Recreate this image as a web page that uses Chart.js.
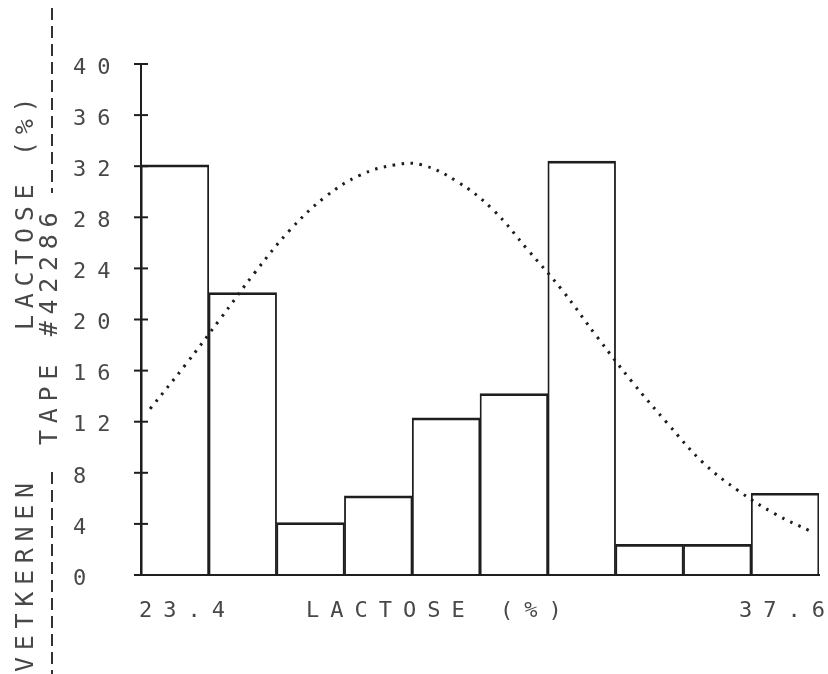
<!DOCTYPE html>
<html>
<head>
<meta charset="utf-8">
<script src="https://cdn.jsdelivr.net/npm/chart.js@4"></script>
<style>
  html, body { margin: 0; padding: 0; background: #fff; }
  canvas { display: block; }
</style>
</head>
<body>
<canvas id="myChart" width="828" height="674"></canvas>
<script>
// lactose classes (%), edges of the 10 bins
const binEdges = [23.4, 24.82, 26.24, 27.66, 29.08, 30.5, 31.92, 33.34, 34.76, 36.18, 37.6];
// share of samples in each bin
const binValues = [32.1, 22.1, 4.1, 6.2, 12.3, 14.2, 32.4, 2.4, 2.4, 6.4];
// fitted normal curve, dotted
const curveX = [23.59, 24.34, 25.05, 25.79, 26.52, 27.26, 27.99, 28.71, 29.28, 30.02,
  30.77, 31.49, 32.22, 32.96, 33.69, 34.42, 35.17, 35.91, 36.67, 37.41];
const curveY = [13.0, 16.5, 20.0, 23.7, 27.0, 29.6, 31.3, 32.1, 32.1, 30.8,
  28.6, 25.5, 22.3, 18.6, 15.1, 11.9, 8.8, 6.6, 4.8, 3.45];
const yMin = 0, yMax = 40, yStep = 4;
const xLabels = ["23.4", "37.6"];
const xTitle = "LACTOSE (%)";
const sideLabels = ["LACTOSE (%)", "TAPE #42286", "VETKERNEN"];

const ink = "#1e1e1e";
const textInk = "#484848";
const plotFont = '"DejaVu Sans Mono", monospace';

let barData = binValues.map((v, i) => ({ x: (binEdges[i] + binEdges[i + 1]) / 2, y: v }));
let curveData = curveX.map((v, i) => ({ x: v, y: curveY[i] }));

// plotter style lettering, tick crosses and the side captions
const plotterText = {
  id: "plotterText",
  beforeDraw: (chart) => {
    chart.ctx.letterSpacing = "11px";
  },
  afterDraw: (chart) => {
    const c = chart.ctx;
    const xs = chart.scales.x, ys = chart.scales.y;
    const area = chart.chartArea;
    c.save();
    c.strokeStyle = ink;
    c.lineWidth = 2;
    ys.ticks.forEach((t) => {
      const py = ys.getPixelForValue(t.value);
      c.beginPath();
      c.moveTo(xs.left - 7, py);
      c.lineTo(xs.left + 7, py);
      c.stroke();
    });

    // x labels at both ends of the axis
    c.fillStyle = textInk;
    c.font = "22px " + plotFont;
    c.letterSpacing = "11px";
    c.textBaseline = "alphabetic";
    c.textAlign = "left";
    const base = area.bottom + 42;
    c.fillText(xLabels[0], xs.getPixelForValue(binEdges[0]) - 2, base);
    const w = c.measureText(xLabels[1]).width;
    c.fillText(xLabels[1], xs.getPixelForValue(binEdges[10]) + 6 - w + 11, base);
    c.fillText(xTitle, xs.left + 165, base);

    // vertical captions on the left
    c.font = "25px " + plotFont;
    c.letterSpacing = "6.7px";
    const vText = (str, px, py) => {
      c.save();
      c.translate(px, py);
      c.rotate(-Math.PI / 2);
      c.fillText(str, 0, 0);
      c.restore();
    };
    vText(sideLabels[0], 33, 330);
    vText(sideLabels[1], 57, 445);
    vText(sideLabels[2], 33, 672);

    c.setLineDash([12, 6]);
    c.lineWidth = 2;
    c.strokeStyle = "#333";
    c.beginPath();
    c.moveTo(52, 8);
    c.lineTo(52, 193);
    c.moveTo(52, 472);
    c.lineTo(52, 674);
    c.stroke();
    c.restore();
  },
};

let ctx = document.getElementById("myChart").getContext("2d");
let myChart = new Chart(ctx, {
  type: "bar",
  data: {
    datasets: [
      {
        type: "line",
        data: curveData,
        borderColor: ink,
        borderWidth: 3,
        borderDash: [2.5, 6.5],
        pointRadius: 0,
        tension: 0.4,
        fill: false,
        order: 0,
      },
      {
        type: "bar",
        data: barData,
        backgroundColor: "rgba(255,255,255,0)",
        borderColor: ink,
        borderWidth: { top: 2, left: 1.2, right: 1.2, bottom: 0 },
        borderSkipped: false,
        barPercentage: 1,
        categoryPercentage: 1,
        order: 1,
      },
    ],
  },
  options: {
    responsive: false,
    animation: false,
    layout: { padding: { left: 73, top: 64, right: 9, bottom: 0 } },
    plugins: {
      legend: { display: false },
      tooltip: { enabled: false },
    },
    scales: {
      x: {
        type: "linear",
        min: binEdges[0],
        max: binEdges[binEdges.length - 1],
        offset: false,
        grid: { display: false, offset: false },
        ticks: { display: false },
        border: { color: ink, width: 2, dash: [14, 4] },
        afterBuildTicks: (scale) => {
          scale.ticks = [{ value: scale.min }, { value: scale.max }];
        },
        afterFit: (scale) => {
          scale.height = 99;
        },
      },
      y: {
        min: yMin,
        max: yMax,
        ticks: {
          stepSize: yStep,
          crossAlign: "far",
          padding: 0,
          labelOffset: 4,
          color: textInk,
          font: { family: plotFont, size: 22 },
        },
        grid: { display: false },
        border: { color: ink, width: 2 },
        afterFit: (scale) => {
          scale.width = 68;
        },
      },
    },
  },
  plugins: [plotterText],
});
</script>
</body>
</html>
